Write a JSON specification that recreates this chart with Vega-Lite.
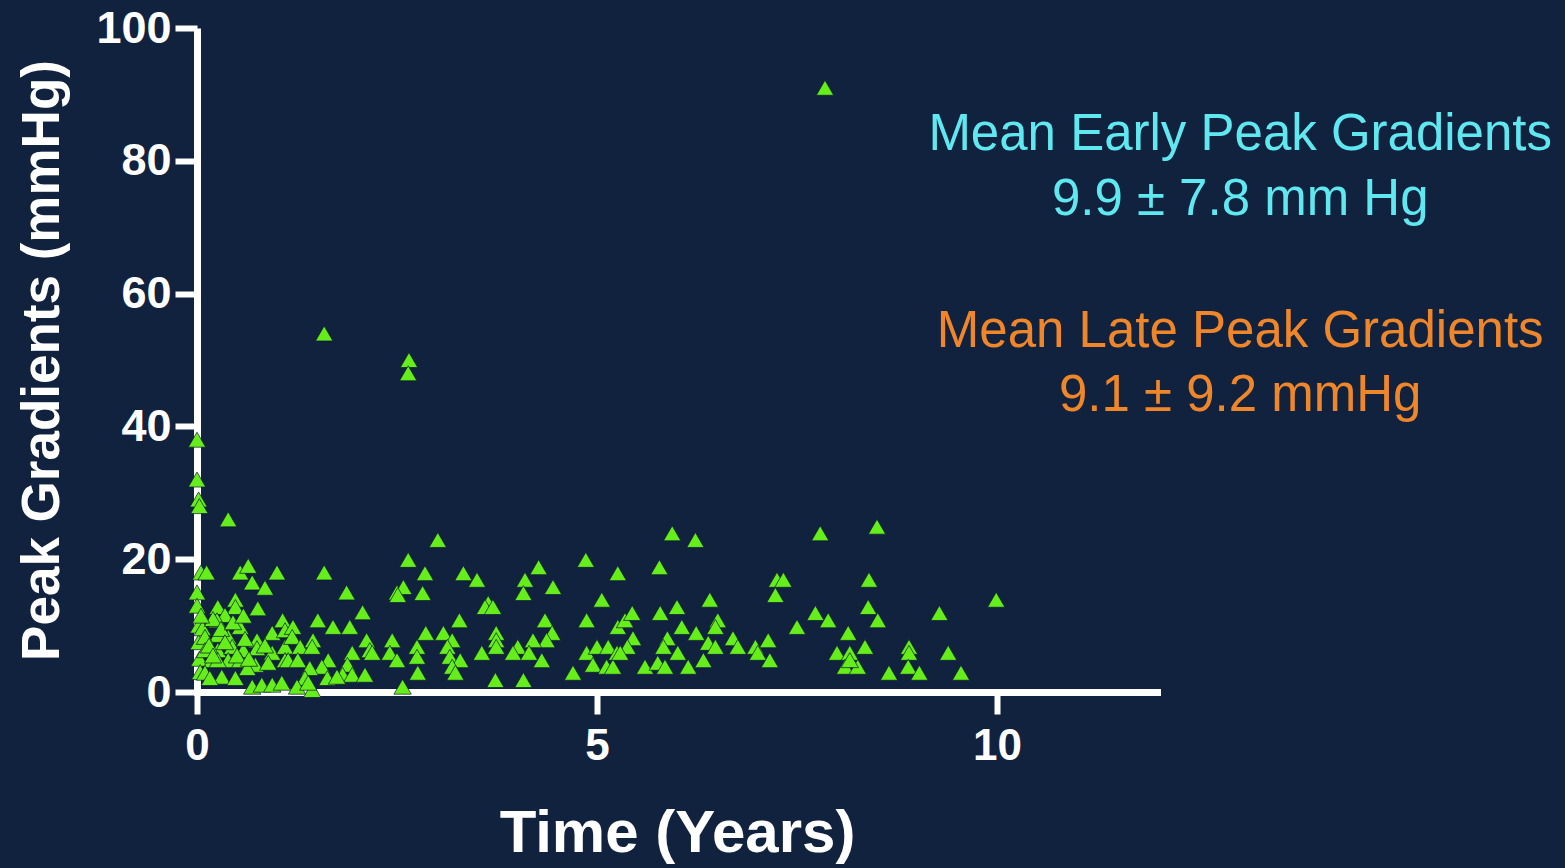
{
  "$schema": "https://vega.github.io/schema/vega-lite/v6.json",
  "width": 960,
  "height": 664,
  "autosize": {"type": "none"},
  "padding": {"left": 197, "top": 28, "right": 408, "bottom": 176},
  "background": "#11223f",
  "config": {
    "view": {"stroke": null},
    "font": "Liberation Sans"
  },
  "datasets": {
    "pts": [
      {"t":0,"g":38},{"t":0,"g":32},{"t":0.02,"g":29},{"t":0.03,"g":28},{"t":0.05,"g":18},{"t":0,"g":15},{"t":0,"g":13},{"t":0.02,"g":10},{"t":0.02,"g":7.5},{"t":0.03,"g":5},{"t":0.04,"g":3},
      {"t":0.39,"g":26},
      {"t":0.12,"g":18},{"t":0.54,"g":18},{"t":0.64,"g":19},{"t":0.69,"g":16.5},{"t":0.85,"g":15.7},{"t":1.0,"g":18},{"t":1.59,"g":18},{"t":1.87,"g":15},{"t":2.07,"g":12},{"t":2.5,"g":15},
      {"t":0.26,"g":12.8},{"t":0.48,"g":13.9},{"t":0.48,"g":12.8},{"t":0.76,"g":12.6},{"t":0.35,"g":11.6},{"t":0.25,"g":10.8},{"t":0.07,"g":9.6},{"t":0.54,"g":9.8},{"t":0.26,"g":8.6},{"t":0.39,"g":8.3},{"t":0.1,"g":8.3},{"t":0.75,"g":7.8},{"t":0.94,"g":8.9},{"t":1.07,"g":10.8},{"t":1.1,"g":9.3},
      {"t":0.1,"g":6.3},{"t":0.26,"g":6.3},{"t":0.44,"g":6.8},{"t":0.58,"g":6.3},{"t":0.75,"g":6.6},{"t":0.94,"g":5.9},{"t":1.1,"g":6.8},
      {"t":0.19,"g":4.8},{"t":0.39,"g":4.8},{"t":0.54,"g":4.8},{"t":0.73,"g":4.1},{"t":0.89,"g":4.4},{"t":1.1,"g":4.8},{"t":0.26,"g":4.8},
      {"t":0.1,"g":2.9},{"t":0.31,"g":2.3},{"t":0.48,"g":2.1},{"t":0.63,"g":3.6},{"t":0.69,"g":0.8},{"t":0.81,"g":1.1},{"t":0.94,"g":1.1},{"t":1.06,"g":1.4},{"t":0.16,"g":2.1},
      {"t":0.2,"g":11},{"t":0.3,"g":9.5},{"t":0.45,"g":10.5},{"t":0.6,"g":8},{"t":0.15,"g":7},{"t":0.35,"g":7.5},{"t":0.5,"g":5.5},{"t":0.65,"g":5},{"t":0.85,"g":7},{"t":0.2,"g":5.5},{"t":0.05,"g":11.5},{"t":0.58,"g":11.5},
      {"t":1.51,"g":10.8},{"t":1.7,"g":9.8},{"t":1.91,"g":9.8},{"t":1.2,"g":9.8},{"t":1.19,"g":8.3},{"t":1.29,"g":6.8},{"t":1.45,"g":7.8},{"t":1.44,"g":6.8},{"t":2.12,"g":7.8},{"t":2.16,"g":6.3},{"t":2.44,"g":7.8},{"t":2.41,"g":5.9},{"t":1.94,"g":5.9},{"t":1.14,"g":4.8},{"t":1.26,"g":4.8},{"t":1.64,"g":4.8},{"t":1.56,"g":3.8},{"t":1.41,"g":3.6},{"t":1.88,"g":4.1},{"t":1.82,"g":2.6},{"t":1.94,"g":2.6},{"t":2.1,"g":2.6},{"t":1.35,"g":2.1},{"t":1.25,"g":0.8},{"t":1.44,"g":0.3},{"t":1.39,"g":1.4},{"t":1.63,"g":2.1},{"t":1.75,"g":2.3},{"t":2.19,"g":5.9},
      {"t":1.59,"g":54},{"t":2.65,"g":50},{"t":2.64,"g":48},
      {"t":3.01,"g":22.9},{"t":2.64,"g":19.9},{"t":2.85,"g":17.9},{"t":3.33,"g":17.9},{"t":3.5,"g":16.9},{"t":2.58,"g":15.8},{"t":2.51,"g":14.6},{"t":2.82,"g":14.9},{"t":3.64,"g":13.4},{"t":3.6,"g":12.8},{"t":3.7,"g":12.8},{"t":3.28,"g":10.8},{"t":2.86,"g":8.9},{"t":3.08,"g":8.9},{"t":3.19,"g":7.8},{"t":3.74,"g":8.9},{"t":3.74,"g":7.8},{"t":3.74,"g":6.8},{"t":2.75,"g":6.8},{"t":2.5,"g":4.8},{"t":2.75,"g":5.3},{"t":3.13,"g":6.8},{"t":3.16,"g":5.3},{"t":3.29,"g":4.8},{"t":3.19,"g":3.8},{"t":3.23,"g":2.9},{"t":3.56,"g":5.9},{"t":2.76,"g":2.9},{"t":3.73,"g":1.8},{"t":2.57,"g":0.8},
      {"t":4.27,"g":18.8},{"t":4.1,"g":16.9},{"t":4.08,"g":14.9},{"t":4.45,"g":15.8},{"t":4.86,"g":19.9},{"t":5.26,"g":17.9},{"t":5.06,"g":13.9},{"t":4.35,"g":10.8},{"t":4.87,"g":10.8},{"t":4.44,"g":8.9},{"t":4.37,"g":7.8},{"t":4.2,"g":7.8},{"t":4.01,"g":6.8},{"t":3.95,"g":5.9},{"t":4.15,"g":5.9},{"t":4.31,"g":4.8},{"t":4.7,"g":2.9},{"t":4.08,"g":1.8},{"t":4.87,"g":5.9},{"t":5.0,"g":6.8},{"t":5.14,"g":6.8},{"t":4.95,"g":4.1},{"t":5.12,"g":3.8},{"t":5.25,"g":5.9},{"t":5.26,"g":9.8},{"t":5.35,"g":10.8},{"t":5.2,"g":3.8},
      {"t":5.94,"g":23.9},{"t":6.23,"g":22.9},{"t":5.78,"g":18.8},{"t":6.41,"g":13.9},{"t":6.0,"g":12.8},{"t":5.79,"g":11.9},{"t":5.44,"g":11.9},{"t":6.51,"g":10.8},{"t":6.06,"g":9.8},{"t":6.48,"g":9.8},{"t":6.24,"g":8.9},{"t":5.45,"g":8.1},{"t":5.88,"g":8.1},{"t":6.7,"g":8.1},{"t":5.38,"g":6.8},{"t":5.83,"g":6.8},{"t":6.39,"g":7.4},{"t":6.48,"g":6.8},{"t":6.76,"g":6.8},{"t":6.98,"g":6.8},{"t":6.01,"g":5.9},{"t":6.33,"g":4.8},{"t":5.6,"g":3.8},{"t":5.76,"g":4.4},{"t":5.85,"g":3.8},{"t":6.14,"g":3.8},{"t":5.29,"g":5.9},
      {"t":7.79,"g":23.9},{"t":8.5,"g":24.9},{"t":7.25,"g":16.9},{"t":7.33,"g":16.9},{"t":7.23,"g":14.6},{"t":8.4,"g":16.9},{"t":8.39,"g":12.8},{"t":7.73,"g":11.9},{"t":7.89,"g":10.8},{"t":7.5,"g":9.8},{"t":8.14,"g":8.9},{"t":7.14,"g":7.8},{"t":7.01,"g":5.9},{"t":7.16,"g":4.8},{"t":8.35,"g":6.8},{"t":8.0,"g":5.9},{"t":8.16,"g":5.9},{"t":8.1,"g":3.8},{"t":8.26,"g":3.8},{"t":8.16,"g":4.8},{"t":8.51,"g":10.8},
      {"t":9.99,"g":13.9},{"t":9.28,"g":11.9},{"t":8.9,"g":6.8},{"t":8.9,"g":5.9},{"t":9.39,"g":5.9},{"t":8.89,"g":3.8},{"t":8.65,"g":2.9},{"t":9.03,"g":2.9},{"t":9.55,"g":2.9},
      {"t":7.85,"g":91}
    ],
    "notes": [
      {"t":13.04,"g":81.6,"label":"Mean Early Peak Gradients","kind":"early"},
      {"t":13.04,"g":71.8,"label":"9.9 ± 7.8 mm Hg","kind":"early"},
      {"t":13.04,"g":52.0,"label":"Mean Late Peak Gradients","kind":"late"},
      {"t":13.04,"g":42.3,"label":"9.1 ± 9.2 mmHg","kind":"late"}
    ]
  },
  "layer": [
    {
      "data": {"name": "pts"},
      "mark": {"type": "point", "shape": "triangle-up", "filled": true, "size": 300, "color": "#66ee1a", "opacity": 1, "stroke": "#0b1a30", "strokeWidth": 0.7},
      "encoding": {
        "x": {
          "field": "t", "type": "quantitative",
          "scale": {"domain": [0, 12], "nice": false, "zero": false},
          "axis": {
            "values": [0, 5, 10], "grid": false, "format": "d", "labelFlush": false,
            "domainColor": "white", "domainWidth": 7, "domainCap": "square",
            "tickColor": "white", "tickWidth": 6, "tickSize": 22,
            "labelColor": "white", "labelFontSize": 44, "labelFontWeight": "bold", "labelPadding": 10, "labelFont": "Liberation Sans",
            "title": "Time (Years)", "titleColor": "white", "titleFontSize": 60, "titleFontWeight": "bold", "titlePadding": 36, "titleFont": "Liberation Sans"
          }
        },
        "y": {
          "field": "g", "type": "quantitative",
          "scale": {"domain": [0, 100], "nice": false, "zero": true},
          "axis": {
            "values": [0, 20, 40, 60, 80, 100], "grid": false, "format": "d", "labelFlush": false,
            "domainColor": "white", "domainWidth": 7,
            "tickColor": "white", "tickWidth": 6, "tickSize": 22,
            "labelColor": "white", "labelFontSize": 45, "labelFontWeight": "bold", "labelPadding": 4, "labelFont": "Liberation Sans",
            "title": "Peak Gradients (mmHg)", "titleColor": "white", "titleFontSize": 53, "titleFontWeight": "bold", "titlePadding": 26, "titleFont": "Liberation Sans"
          }
        }
      }
    },
    {
      "data": {"name": "notes"},
      "mark": {"type": "text", "align": "center", "baseline": "alphabetic", "fontSize": 51, "font": "Liberation Sans"},
      "encoding": {
        "x": {"field": "t", "type": "quantitative"},
        "y": {"field": "g", "type": "quantitative"},
        "text": {"field": "label"},
        "color": {"field": "kind", "type": "nominal", "scale": {"domain": ["early", "late"], "range": ["#5fe8f0", "#f0862a"]}, "legend": null}
      }
    }
  ]
}
